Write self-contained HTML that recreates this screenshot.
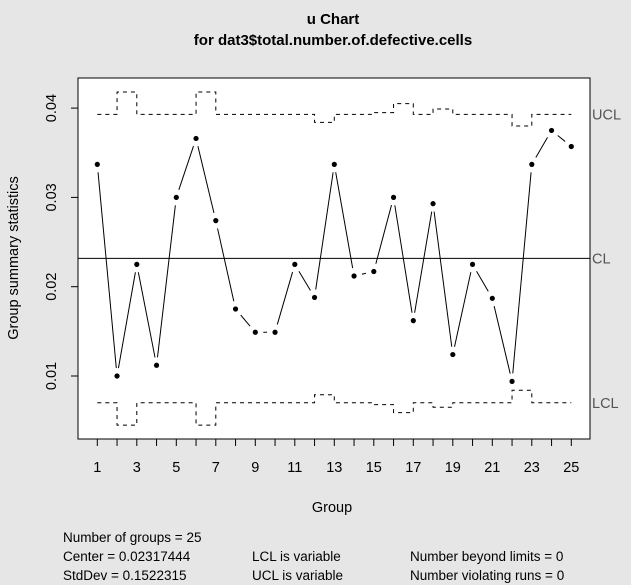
<!DOCTYPE html>
<html><head><meta charset="utf-8"><style>
html,body{margin:0;padding:0;background:#e6e6e6;}
svg{display:block;font-family:"Liberation Sans",Arial,sans-serif;}
</style></head><body>
<svg id="chart" width="631" height="585" viewBox="0 0 631 585" xmlns="http://www.w3.org/2000/svg">
<rect x="0" y="0" width="631" height="585" fill="#e6e6e6"/>
<text x="333" y="24" text-anchor="middle" font-size="15" font-weight="bold">u Chart</text>
<text x="333" y="45" text-anchor="middle" font-size="15" font-weight="bold">for dat3$total.number.of.defective.cells</text>
<rect x="78" y="78" width="512" height="361" fill="#ffffff" stroke="#000" stroke-width="1"/>
<g id="yaxis"></g>
<g id="xaxis"></g>
<g id="limits"></g>
<g id="series"></g>
<text x="332" y="512" text-anchor="middle" font-size="14.5">Group</text>
<text transform="translate(18,258) rotate(-90)" text-anchor="middle" font-size="14.5">Group summary statistics</text>
<g font-size="13.5">
<text x="63" y="542">Number of groups = 25</text>
<text x="63" y="561">Center = 0.02317444</text>
<text x="63" y="580">StdDev = 0.1522315</text>
<text x="252" y="561">LCL is variable</text>
<text x="252" y="580">UCL is variable</text>
<text x="410" y="561">Number beyond limits = 0</text>
<text x="410" y="580">Number violating runs = 0</text>
</g>
</svg>
<script>
const groups = [1,2,3,4,5,6,7,8,9,10,11,12,13,14,15,16,17,18,19,20,21,22,23,24,25];
const uValues = [0.0337,0.0100,0.0225,0.0112,0.0300,0.0366,0.0274,0.0175,0.0149,0.0149,0.0225,0.0188,0.0337,0.0212,0.0217,0.0300,0.0162,0.0293,0.0124,0.0225,0.0187,0.0094,0.0337,0.0375,0.0357];
const uclValues = [0.0393,0.0418,0.0393,0.0393,0.0393,0.0418,0.0393,0.0393,0.0393,0.0393,0.0393,0.0384,0.0393,0.0393,0.0395,0.0405,0.0393,0.0399,0.0393,0.0393,0.0393,0.0380,0.0393,0.0393,0.0393];
const lclValues = [0.0070,0.0045,0.0070,0.0070,0.0070,0.0045,0.0070,0.0070,0.0070,0.0070,0.0070,0.0079,0.0070,0.0070,0.0068,0.0059,0.0070,0.0065,0.0070,0.0070,0.0070,0.0084,0.0070,0.0070,0.0070];
const centerLine = 0.02317444;
const yTicks = [0.01,0.02,0.03,0.04];
const yTickLabels = ["0.01","0.02","0.03","0.04"];
const xTickLabels = ["1","3","5","7","9","11","13","15","17","19","21","23","25"];

const NS = "http://www.w3.org/2000/svg";
function xS(g){ return 97.3 + (g-1)*19.75; }
function yS(v){ return 465.3 - v*8930; }
function mk(tag, attrs, parent){ const e=document.createElementNS(NS,tag); for(const k in attrs) e.setAttribute(k,attrs[k]); parent.appendChild(e); return e; }

const yAx=document.getElementById('yaxis');
yTicks.forEach((t,i)=>{
  const y=yS(t);
  const l=mk('line',{x1:71,x2:78,y1:y,y2:y,stroke:'#000'},yAx);
  
  
  const tx=mk('text',{transform:`translate(56,${y}) rotate(-90)`,'text-anchor':'middle','font-size':'14.5'},yAx);
  tx.textContent=yTickLabels[i];
  
  
});
const xAx=document.getElementById('xaxis');
groups.forEach(g=>{
  const x=xS(g);
  const l=mk('line',{x1:x,x2:x,y1:439,y2:446,stroke:'#000'},xAx);
  
  
});
xTickLabels.forEach(s=>{
  const tx=mk('text',{x:xS(+s),y:472,'text-anchor':'middle','font-size':'14.5'},xAx);
  tx.textContent=s;
  
  
});

const lim=document.getElementById('limits');
function stepPath(arr){
  let d=`M${xS(1)},${yS(arr[0])}`;
  for(let i=1;i<arr.length;i++){ d+=` H${xS(groups[i])} V${yS(arr[i])}`; }
  return d;
}
const up=mk('path',{d:stepPath(uclValues),fill:'none',stroke:'#000','stroke-dasharray':'4,4'},lim);


const lp=mk('path',{d:stepPath(lclValues),fill:'none',stroke:'#000','stroke-dasharray':'4,4'},lim);


const cl=mk('line',{x1:78,x2:590,y1:yS(centerLine),y2:yS(centerLine),stroke:'#000'},lim);


const labs=[['UCL',uclValues[uclValues.length-1],'ucl-label'],['CL',centerLine,'cl-label'],['LCL',lclValues[lclValues.length-1],'lcl-label']];
labs.forEach(a=>{
  const t=mk('text',{x:592,y:yS(a[1])+5,'font-size':'14.5',fill:'#555'},lim);
  t.textContent=a[0];
  
  
});

const ser=document.getElementById('series');
for(let i=0;i<groups.length-1;i++){
  const x1=xS(groups[i]),y1=yS(uValues[i]),x2=xS(groups[i+1]),y2=yS(uValues[i+1]);
  const dx=x2-x1,dy=y2-y1,len=Math.hypot(dx,dy);
  if(len>16){
    const g=8/len;
    const l=mk('line',{x1:x1+dx*g,y1:y1+dy*g,x2:x2-dx*g,y2:y2-dy*g,stroke:'#000'},ser);
    
    
  }
}
groups.forEach((g,i)=>{
  const c=mk('circle',{cx:xS(g),cy:yS(uValues[i]),r:2.6,fill:'#000'},ser);
  
  
});
</script>
</body></html>
